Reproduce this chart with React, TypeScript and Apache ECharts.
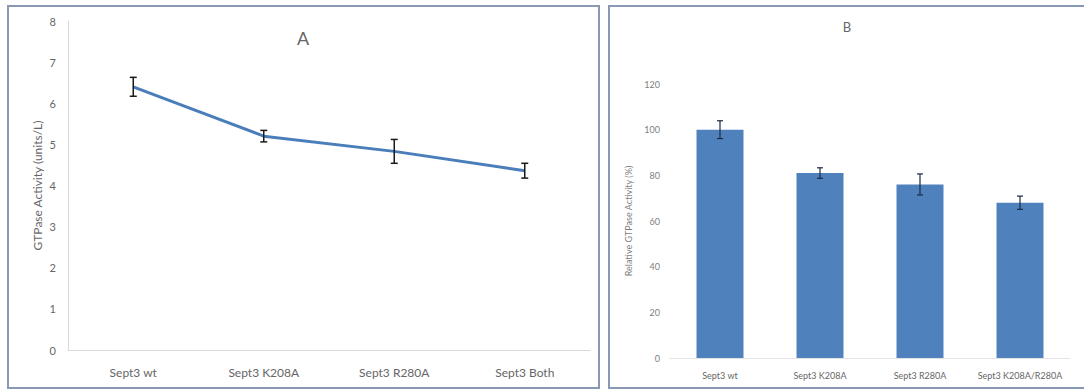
import React, { useEffect, useRef } from "react";
import * as echarts from "echarts";

const categoriesA = ["Sept3 wt", "Sept3 K208A", "Sept3 R280A", "Sept3 Both"];
const activityA = [6.4, 5.2, 4.83, 4.36];
const errorA = [0.23, 0.14, 0.29, 0.18];

const categoriesB = ["Sept3 wt", "Sept3 K208A", "Sept3 R280A", "Sept3 K208A/R280A"];
const relativeB = [100, 81, 76, 68];
const errorB = [3.9, 2.3, 4.6, 2.9];

const FONT = "Lato, 'Open Sans', sans-serif";

function errorSeries(
  values: number[],
  errs: number[],
  xIdx: number,
  yIdx: number,
  cap: number,
  color: string,
  lw: number
) {
  return {
    type: "custom",
    xAxisIndex: xIdx,
    yAxisIndex: yIdx,
    z: 10,
    silent: true,
    data: values.map((v, i) => [i, v - errs[i], v + errs[i]]),
    renderItem: (params: any, api: any) => {
      const lo = api.coord([api.value(0), api.value(1)]);
      const hi = api.coord([api.value(0), api.value(2)]);
      const style = { stroke: color, lineWidth: lw };
      return {
        type: "group",
        children: [
          { type: "line", shape: { x1: hi[0], y1: hi[1], x2: lo[0], y2: lo[1] }, style },
          { type: "line", shape: { x1: hi[0] - cap, y1: hi[1], x2: hi[0] + cap, y2: hi[1] }, style },
          { type: "line", shape: { x1: lo[0] - cap, y1: lo[1], x2: lo[0] + cap, y2: lo[1] }, style },
        ],
      };
    },
  };
}

export default function App() {
  const ref = useRef<HTMLDivElement>(null);
  useEffect(() => {
    if (!ref.current) return;
    const chart = echarts.init(ref.current, null, { renderer: "svg" });
    const option: any = {
      animation: false,
      backgroundColor: "#ffffff",
      textStyle: { fontFamily: FONT },
      graphic: [
        {
          type: "rect",
          shape: { x: 8, y: 6, width: 591, height: 382 },
          style: { fill: "none", stroke: "#8a99b3", lineWidth: 2 },
          z: 0,
        },
        {
          type: "rect",
          shape: { x: 609, y: 6, width: 490, height: 382 },
          style: { fill: "none", stroke: "#8a99b3", lineWidth: 2 },
          z: 0,
        },
        {
          type: "text",
          x: 303,
          y: 38,
          style: {
            text: "A",
            fontSize: 18,
            fill: "#666666",
            fontFamily: FONT,
            align: "center",
            verticalAlign: "middle",
          },
        },
        {
          type: "text",
          x: 847,
          y: 27,
          style: {
            text: "B",
            fontSize: 13,
            fill: "#666666",
            fontFamily: FONT,
            align: "center",
            verticalAlign: "middle",
          },
        },
      ],
      grid: [
        { left: 68, top: 21, width: 522, height: 329 },
        { left: 670, top: 84, width: 400, height: 274 },
      ],
      xAxis: [
        {
          type: "category",
          gridIndex: 0,
          data: categoriesA,
          axisLine: { show: true, lineStyle: { color: "#d9d9d9", width: 1 } },
          axisTick: { show: false },
          axisLabel: { color: "#666666", fontSize: 12, margin: 16, interval: 0, fontFamily: FONT },
        },
        {
          type: "category",
          gridIndex: 1,
          data: categoriesB,
          axisLine: { show: true, lineStyle: { color: "#e3e3e3", width: 1 } },
          axisTick: { show: false },
          axisLabel: { color: "#666666", fontSize: 9, margin: 13, interval: 0, fontFamily: FONT },
        },
      ],
      yAxis: [
        {
          type: "value",
          gridIndex: 0,
          min: 0,
          max: 8,
          interval: 1,
          name: "GTPase Activity (units/L)",
          nameLocation: "middle",
          nameGap: 25,
          nameTextStyle: { color: "#666666", fontSize: 12, fontFamily: FONT },
          axisLine: { show: true, lineStyle: { color: "#d9d9d9", width: 1 } },
          axisTick: { show: false },
          splitLine: { show: false },
          axisLabel: { color: "#666666", fontSize: 11, margin: 12, fontFamily: FONT },
        },
        {
          type: "value",
          gridIndex: 1,
          min: 0,
          max: 120,
          interval: 20,
          name: "Relative GTPase Activity (%)",
          nameLocation: "middle",
          nameGap: 37,
          nameTextStyle: { color: "#808080", fontSize: 9, fontFamily: FONT },
          axisLine: { show: false },
          axisTick: { show: false },
          splitLine: { show: false },
          axisLabel: { color: "#808080", fontSize: 9, margin: 10, fontFamily: FONT },
        },
      ],
      series: [
        {
          type: "line",
          xAxisIndex: 0,
          yAxisIndex: 0,
          data: activityA,
          symbol: "none",
          lineStyle: { color: "#4a7ebb", width: 3 },
          z: 5,
        },
        errorSeries(activityA, errorA, 0, 0, 3.5, "#1a1a1a", 1.5),
        {
          type: "bar",
          xAxisIndex: 1,
          yAxisIndex: 1,
          data: relativeB,
          barWidth: 47,
          itemStyle: { color: "#4f81bd" },
          z: 5,
        },
        errorSeries(relativeB, errorB, 1, 1, 3, "#1b2a44", 1.2),
      ],
    };
    chart.setOption(option);
    return () => chart.dispose();
  }, []);
  return (
    <div
      ref={ref}
      style={{ position: "fixed", left: 0, top: 0, width: 1084, height: 390, background: "#fff" }}
    />
  );
}
